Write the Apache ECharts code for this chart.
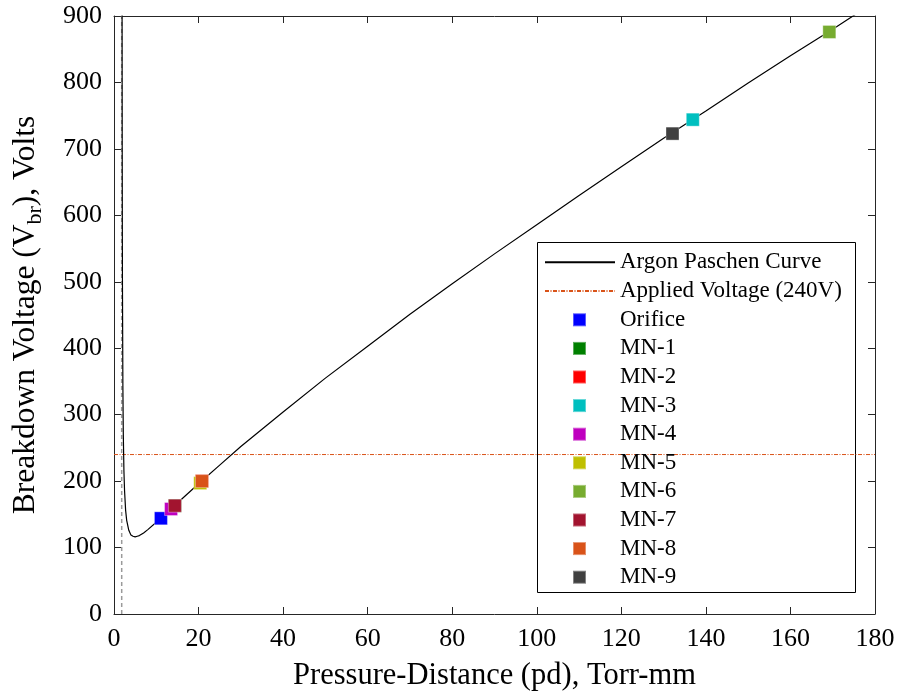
<!DOCTYPE html>
<html>
<head>
<meta charset="utf-8">
<script src="https://cdn.jsdelivr.net/npm/echarts@6/dist/echarts.min.js"></script>
<style>
  html, body { margin: 0; padding: 0; background: #fff; }
  #chart { width: 898px; height: 696px; }
</style>
</head>
<body>
<div id="chart"></div>
<script>
// Argon Paschen curve: pressure-distance (Torr-mm) vs breakdown voltage (V)
const paschenPd = [1.905, 1.91, 1.92, 1.94, 1.97, 2.0, 2.1, 2.2, 2.35, 2.5, 2.75, 3.0, 3.5, 4.0, 4.5, 5.0, 5.5, 6, 7, 8,
  10, 12, 15, 20, 25, 30, 40, 50, 60, 70, 80, 90, 100, 110, 120, 130, 140, 150, 160, 170, 176];
const paschenV = [960, 911, 828, 703, 577, 493, 343, 271, 215, 185, 156, 141, 126, 119, 117, 116, 117, 118, 122, 127,
  138, 149, 167, 196, 224, 252, 304, 355, 403, 451, 497, 542, 586, 630, 673, 716, 757, 799, 840, 880, 905];

// Applied voltage level and the pd limit of the curve
const appliedPd = [0, 180];
const appliedV = [240, 240];
const limitPd = [1.82, 1.82];
const limitV = [0, 900];

// Measured breakdown points per sample
const sampleNames = ['Orifice', 'MN-1', 'MN-2', 'MN-3', 'MN-4', 'MN-5', 'MN-6', 'MN-7', 'MN-8', 'MN-9'];
const samplePd = [11.1, 14.4, 20.8, 136.9, 13.5, 20.4, 169.2, 14.4, 20.8, 132.1];
const sampleV = [144, 163, 200, 744, 158, 197, 876, 163, 200, 723];
const sampleColors = ['#0000FF', '#008000', '#FF0000', '#00BFBF', '#BF00BF', '#BFBF00', '#77AC30', '#A2142F', '#D95319', '#404040'];

// Axis ticks
const xTicks = { min: 0, max: 180, interval: 20 };
const yTicks = { min: 0, max: 900, interval: 100 };

const FONT = "'Liberation Serif', 'Times New Roman', serif";
const AXIS_COLOR = '#262626';

function zip(xs, ys) { return xs.map((x, i) => [x, ys[i]]); }

const chart = echarts.init(document.getElementById('chart'), null, { renderer: 'canvas' });

const tickStyle = { show: true, inside: true, length: 7, lineStyle: { color: AXIS_COLOR, width: 1 } };
const lineStyleAxis = { show: true, onZero: false, lineStyle: { color: AXIS_COLOR, width: 1 } };

const series = [
  {
    name: 'Argon Paschen Curve', type: 'line', xAxisIndex: 0, yAxisIndex: 0,
    data: zip(paschenPd, paschenV), symbol: 'none', smooth: false, clip: true,
    lineStyle: { color: '#000', width: 1.2 }, itemStyle: { color: '#000' }, z: 3
  },
  {
    name: 'Applied Voltage (240V)', type: 'line', xAxisIndex: 0, yAxisIndex: 0,
    data: zip(appliedPd, appliedV), symbol: 'none',
    lineStyle: { color: '#D95319', width: 1, type: [4, 1.5, 1, 1.5] }, itemStyle: { color: '#D95319' }, z: 2
  },
  {
    name: 'pd limit', type: 'line', xAxisIndex: 0, yAxisIndex: 0,
    data: zip(limitPd, limitV), symbol: 'none',
    lineStyle: { color: '#9a9a9a', width: 1.5, type: [4, 3] }, z: 2, silent: true
  }
];
sampleNames.forEach((name, i) => {
  series.push({
    name: name, type: 'scatter', xAxisIndex: 0, yAxisIndex: 0,
    data: [[samplePd[i], sampleV[i]]], symbol: 'rect', symbolSize: 13,
    itemStyle: { color: sampleColors[i], opacity: 1, borderColor: 'rgba(255,255,255,0.35)', borderWidth: 1 },
    z: 4
  });
});

const option = {
  animation: false,
  backgroundColor: '#fff',
  grid: { left: 114, right: 23, top: 16, bottom: 81, containLabel: false },
  xAxis: [
    {
      type: 'value', position: 'bottom', min: xTicks.min, max: xTicks.max, interval: xTicks.interval,
      axisLine: lineStyleAxis, axisTick: tickStyle, splitLine: { show: false },
      axisLabel: { color: '#000', fontFamily: FONT, fontSize: 26, margin: 12 },
      name: 'Pressure-Distance (pd), Torr-mm', nameLocation: 'middle', nameGap: 46,
      nameTextStyle: { color: '#000', fontFamily: FONT, fontSize: 30.5 }
    },
    {
      type: 'value', position: 'top', min: xTicks.min, max: xTicks.max, interval: xTicks.interval,
      axisLine: lineStyleAxis, axisTick: tickStyle, axisLabel: { show: false }, splitLine: { show: false }
    }
  ],
  yAxis: [
    {
      type: 'value', position: 'left', min: yTicks.min, max: yTicks.max, interval: yTicks.interval,
      axisLine: lineStyleAxis, axisTick: tickStyle, splitLine: { show: false },
      axisLabel: { color: '#000', fontFamily: FONT, fontSize: 26, margin: 12 },
      name: '{t|Breakdown Voltage (V}{s|br}{t|), Volts}', nameLocation: 'middle', nameGap: 68, nameRotate: 90,
      nameTextStyle: {
        rich: {
          t: { color: '#000', fontFamily: FONT, fontSize: 31.5, lineHeight: 40 },
          s: { color: '#000', fontFamily: FONT, fontSize: 22, lineHeight: 22, verticalAlign: 'bottom' }
        }
      }
    },
    {
      type: 'value', position: 'right', min: yTicks.min, max: yTicks.max, interval: yTicks.interval,
      axisLine: lineStyleAxis, axisTick: tickStyle, axisLabel: { show: false }, splitLine: { show: false }
    }
  ],
  legend: [
    {
      data: ['Argon Paschen Curve', 'Applied Voltage (240V)'],
      orient: 'vertical', left: 544, top: 248, padding: 0, itemGap: 0,
      itemWidth: 70, itemHeight: 14, selectedMode: false,
      itemStyle: { opacity: 0, borderWidth: 0 },
      textStyle: { color: '#000', fontFamily: FONT, fontSize: 23, lineHeight: 28.6 }
    },
    {
      data: sampleNames.map(n => ({ name: n, icon: 'rect' })),
      orient: 'vertical', left: 572, top: 305.5, padding: 0, itemGap: 0,
      itemWidth: 13, itemHeight: 13, selectedMode: false,
      textStyle: { color: '#000', fontFamily: FONT, fontSize: 23, lineHeight: 28.6, padding: [0, 0, 0, 29] }
    }
  ],
  graphic: [
    {
      type: 'rect', z: 0, zlevel: 0,
      shape: { x: 537.5, y: 242.5, width: 318, height: 350 },
      style: { fill: '#fff', stroke: '#000', lineWidth: 1 }
    }
  ],
  series: series
};

chart.setOption(option);
</script>
</body>
</html>
